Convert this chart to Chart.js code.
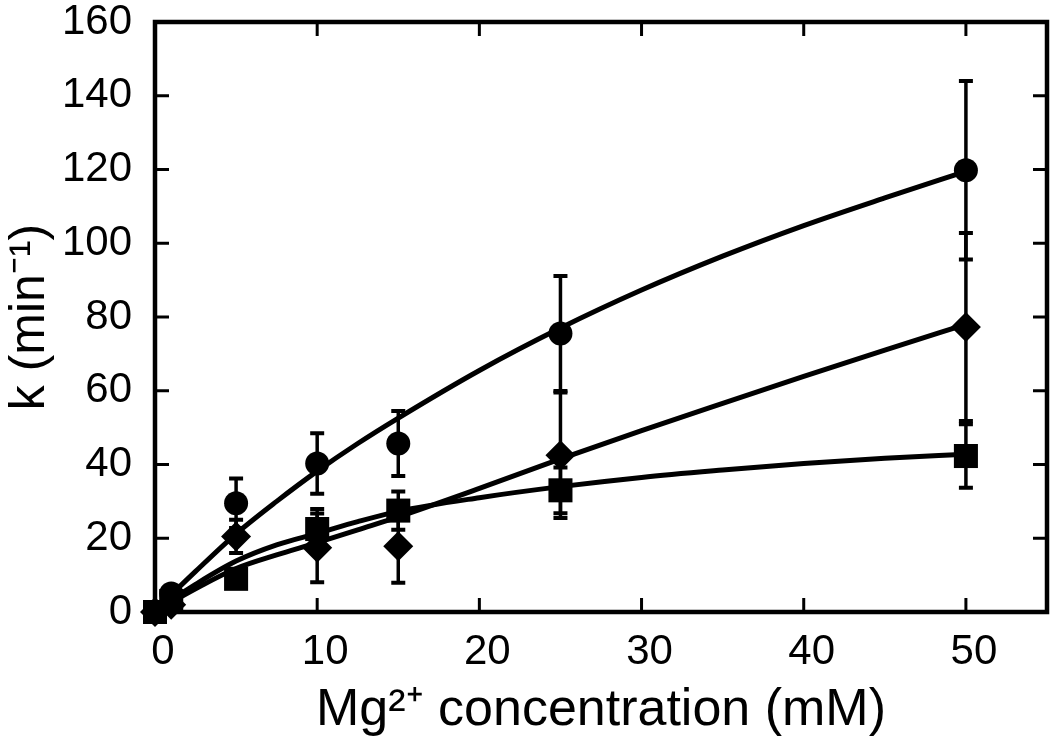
<!DOCTYPE html>
<html><head><meta charset="utf-8">
<style>html,body{margin:0;padding:0;background:#fff}#wrap{width:1050px;height:746px}</style>
<script src="https://cdn.jsdelivr.net/npm/chart.js@4.4.1/dist/chart.umd.min.js"></script>
</head><body><div id="wrap"><canvas id="c" width="1050" height="746"></canvas></div>
<script>
// Measured points (Mg2+ concentration in mM)
const mgConc = [0, 1, 5, 10, 15, 25, 50];
const kCircle = [0, 5, 29.5, 40.3, 45.7, 75.5, 119.8];
const errCircle = [0, 0.8, 6.7, 8.2, 8.8, 15.6, 24.2];
const kSquare = [0, 3, 9, 22.5, 27.5, 33, 42.3];
const errSquare = [0, 0.5, 1, 5.4, 5.2, 6.2, 8.6];
const kDiamond = [0, 2, 20.5, 17.4, 17.8, 42.5, 77.3];
const errDiamond = [0, 0.5, 4.5, 9.3, 9.9, 17, 25.5];

// Fitted curves
const fitX = [0, 1, 2.5, 5, 7.5, 10, 12.5, 15, 20, 25, 30, 35, 40, 45, 50];
const fitCircle = [0, 4.6, 11, 21.2, 30, 38.2, 45.7, 52.6, 65.5, 77, 87.3, 96.5, 104.8, 112.3, 119.5];
const fitSquare = [0, 3.2, 7.5, 13.8, 18.2, 21.3, 24.5, 27.3, 31, 34, 36.5, 38.5, 40.3, 41.7, 42.8];
const fitDiamond = [0, 2.6, 6.3, 11.8, 15.5, 18.8, 22.3, 25.8, 33.5, 41.5, 49.2, 56.6, 63.9, 71, 78];

// Tick values
const xTickVals = [0, 10, 20, 30, 40, 50];
const yTickVals = [0, 20, 40, 60, 80, 100, 120, 140, 160];

const FONT = "'Liberation Sans', Arial, Helvetica, sans-serif";
const pts = (xs, ys) => xs.map((x, i) => ({x: x, y: ys[i]}));

function markerSet(label, ys, errs, style, radius) {
  return {
    label: label, data: pts(mgConc, ys), errors: errs,
    showLine: false, pointStyle: style, pointRadius: radius, pointHoverRadius: radius,
    backgroundColor: '#000', borderColor: '#000', borderWidth: 0, clip: false
  };
}
function fitSet(label, ys) {
  return {
    label: label, data: pts(fitX, ys), showLine: true, pointRadius: 0, pointHoverRadius: 0,
    borderColor: '#000', borderWidth: 5, cubicInterpolationMode: 'monotone', fill: false, clip: false
  };
}

const errorBars = {
  id: 'errorBars',
  beforeDatasetsDraw(chart) {
    const ctx = chart.ctx, xs = chart.scales.x, ys = chart.scales.y;
    ctx.save();
    ctx.strokeStyle = '#000';
    chart.data.datasets.forEach(ds => {
      if (!ds.errors) return;
      ds.data.forEach((p, i) => {
        const e = ds.errors[i];
        if (!e) return;
        const px = xs.getPixelForValue(p.x);
        const top = ys.getPixelForValue(p.y + e);
        const bot = ys.getPixelForValue(p.y - e);
        ctx.lineWidth = 3.5;
        ctx.beginPath(); ctx.moveTo(px, top); ctx.lineTo(px, bot); ctx.stroke();
        ctx.lineWidth = 4;
        ctx.beginPath();
        ctx.moveTo(px - 7, top); ctx.lineTo(px + 7, top);
        ctx.moveTo(px - 7, bot); ctx.lineTo(px + 7, bot);
        ctx.stroke();
      });
    });
    ctx.restore();
  }
};

const frame = {
  id: 'frame',
  afterDatasetsDraw(chart) {
    const ctx = chart.ctx, a = chart.chartArea, xs = chart.scales.x, ys = chart.scales.y;
    ctx.save();
    ctx.strokeStyle = '#000';
    ctx.lineWidth = 3;
    ctx.beginPath();
    xTickVals.forEach(v => {
      const px = xs.getPixelForValue(v);
      if (px <= a.left + 2) return;
      ctx.moveTo(px, a.bottom); ctx.lineTo(px, a.bottom - 14);
      ctx.moveTo(px, a.top); ctx.lineTo(px, a.top + 14);
    });
    yTickVals.forEach(v => {
      const py = ys.getPixelForValue(v);
      if (py <= a.top + 2 || py >= a.bottom - 2) return;
      ctx.moveTo(a.left, py); ctx.lineTo(a.left + 14, py);
      ctx.moveTo(a.right, py); ctx.lineTo(a.right - 14, py);
    });
    ctx.stroke();
    ctx.lineWidth = 4.5;
    ctx.strokeRect(a.left, a.top, a.right - a.left, a.bottom - a.top);
    ctx.restore();
  }
};

function noPad(s) { s.paddingTop = 0; s.paddingBottom = 0; s.paddingLeft = 0; s.paddingRight = 0; }

new Chart(document.getElementById('c'), {
  type: 'scatter',
  data: {
    datasets: [
      markerSet('circles', kCircle, errCircle, 'circle', 12),
      markerSet('squares', kSquare, errSquare, 'rect', 17),
      markerSet('diamonds', kDiamond, errDiamond, 'rectRot', 15),
      fitSet('circle fit', fitCircle),
      fitSet('square fit', fitSquare),
      fitSet('diamond fit', fitDiamond)
    ]
  },
  options: {
    responsive: false, devicePixelRatio: 1, animation: false,
    layout: {autoPadding: false, padding: {top: 22, right: 3, left: 0, bottom: 0}},
    plugins: {legend: {display: false}, tooltip: {enabled: false}},
    scales: {
      x: {
        type: 'linear', min: 0, max: 55,
        afterBuildTicks: s => { s.ticks = xTickVals.map(v => ({value: v})); },
        afterFit: s => { s.height = 134; noPad(s); },
        grid: {display: false}, border: {display: false},
        ticks: {color: '#000', padding: 11, labelOffset: 8, maxRotation: 0, font: {family: FONT, size: 42, lineHeight: 1}},
        title: {display: true, text: 'Mg²⁺ concentration (mM)', color: '#000',
                padding: {top: 0, bottom: 4}, font: {family: FONT, size: 52, lineHeight: 1.2}}
      },
      y: {
        type: 'linear', min: 0, max: 160,
        afterBuildTicks: s => { s.ticks = yTickVals.map(v => ({value: v})); },
        afterFit: s => { s.width = 155; noPad(s); },
        grid: {display: false}, border: {display: false},
        ticks: {color: '#000', padding: 15, font: {family: FONT, size: 42, lineHeight: 1}},
        title: {display: true, text: 'k (min⁻¹)', color: '#000',
                padding: {top: 0, bottom: 0}, font: {family: FONT, size: 50, lineHeight: 1.2}}
      }
    }
  },
  plugins: [errorBars, frame]
});
</script>
</body></html>
